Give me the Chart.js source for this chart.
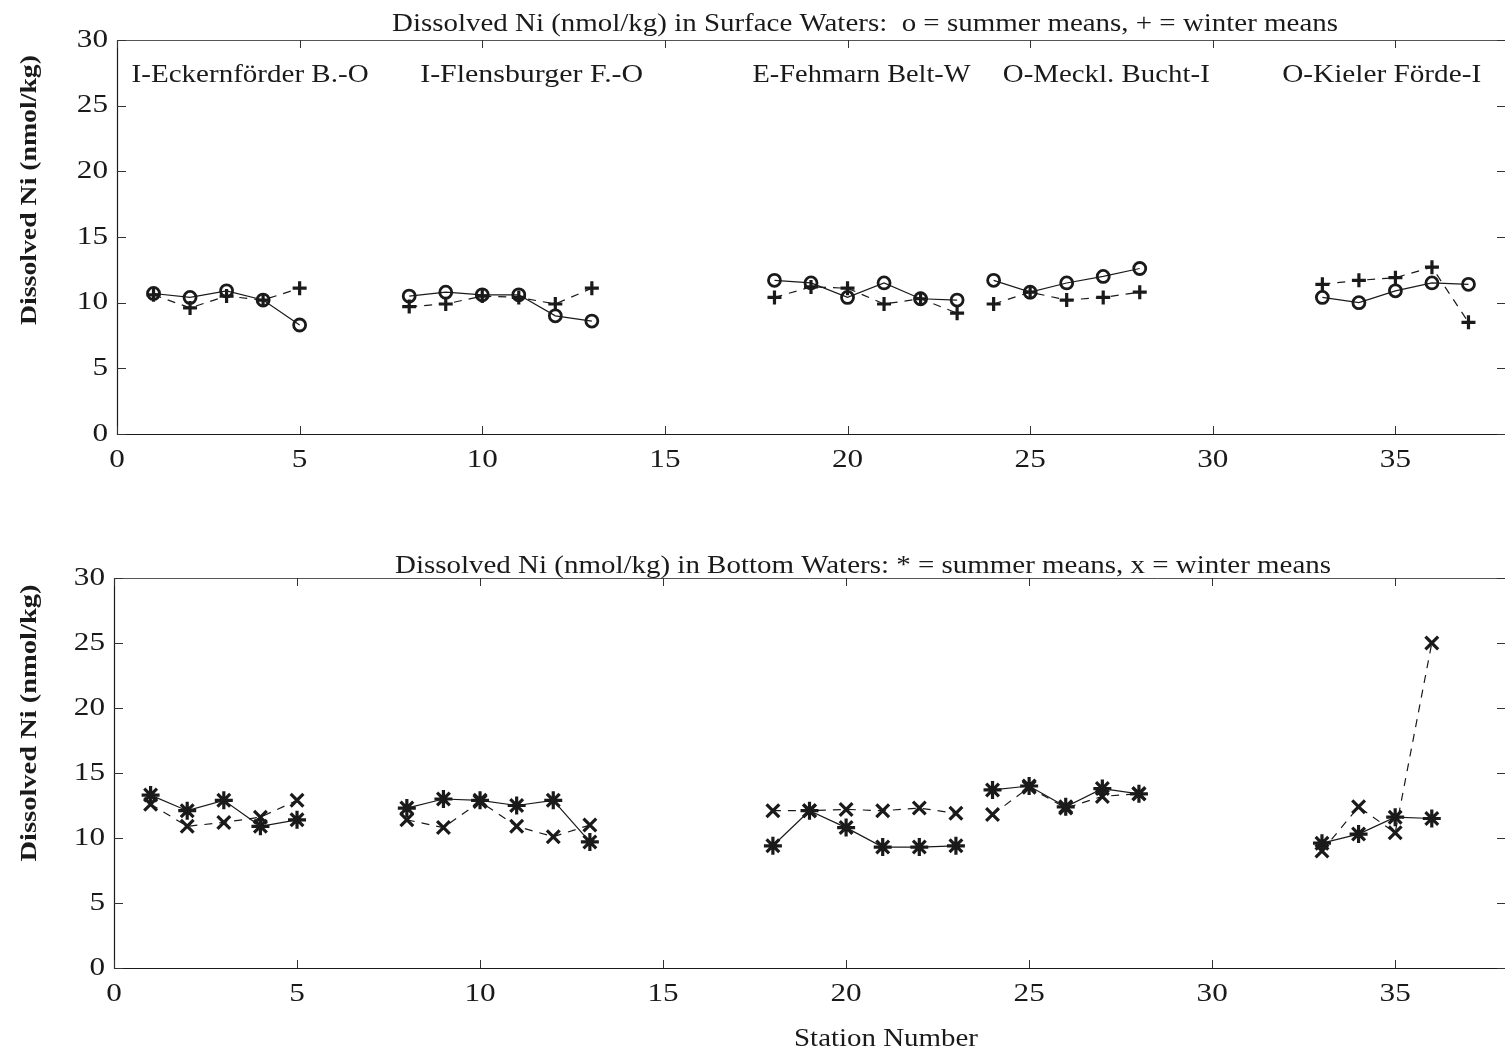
<!DOCTYPE html>
<html>
<head>
<meta charset="utf-8">
<script src="https://cdn.jsdelivr.net/npm/chart.js@4.4.1/dist/chart.umd.min.js"></script>
<style>
  body { margin: 0; background: #fff; overflow: hidden; font-family: "Liberation Serif", serif; }
  .panel { position: absolute; left: 0; width: 1505px; }
  #surfacePanel { top: 0; height: 480px; }
  #bottomPanel { top: 538px; height: 513px; }
  .warm { position: absolute; left: -999px; top: 0; }
</style>
</head>
<body>
<span class="warm">Dissolved Ni <b>Dissolved Ni</b></span>
<div class="panel" id="surfacePanel"><canvas id="surfaceChart"></canvas></div>
<div class="panel" id="bottomPanel"><canvas id="bottomChart"></canvas></div>
<script>
// Stations, grouped by transect
const regionNames = ["I-Eckernförder B.-O", "I-Flensburger F.-O", "E-Fehmarn Belt-W", "O-Meckl. Bucht-I", "O-Kieler Förde-I"];
const regionStations = [
  [1, 2, 3, 4, 5],
  [8, 9, 10, 11, 12, 13],
  [18, 19, 20, 21, 22, 23],
  [24, 25, 26, 27, 28],
  [33, 34, 35, 36, 37]
];
const stations = regionStations.flat();

// Dissolved Ni (nmol/kg), one value per station above
const surfaceSummer = [10.7, 10.4, 10.9, 10.2, 8.3,  10.5, 10.8, 10.6, 10.6, 9.0, 8.6,  11.7, 11.5, 10.4, 11.5, 10.3, 10.2,  11.7, 10.8, 11.5, 12.0, 12.6,  10.4, 10.0, 10.9, 11.5, 11.4];
const surfaceWinter = [10.6, 9.6, 10.5, 10.2, 11.1,  9.7, 9.9, 10.5, 10.4, 9.9, 11.1,  10.4, 11.2, 11.1, 9.9, 10.3, 9.2,  9.9, 10.8, 10.2, 10.4, 10.8,  11.4, 11.7, 11.9, 12.7, 8.5];
const bottomSummer = [13.3, 12.1, 12.9, 10.9, 11.4,  12.3, 13.0, 12.9, 12.5, 12.9, 9.7,  9.4, 12.1, 10.8, 9.3, 9.3, 9.4,  13.7, 14.0, 12.4, 13.8, 13.4,  9.6, 10.3, 11.6, 11.5, null];
const bottomWinter = [12.6, 10.9, 11.2, 11.6, 12.9,  11.4, 10.8, 12.8, 10.9, 10.1, 11.0,  12.1, 12.1, 12.2, 12.1, 12.3, 11.9,  11.8, 13.9, 12.3, 13.2, 13.4,  9.0, 12.4, 10.4, 25.0, null];

const xTicks = [0, 5, 10, 15, 20, 25, 30, 35];
const yTicks = [0, 5, 10, 15, 20, 25, 30];

// left edge (data units) of each transect name, its baseline height and set width in px
const regionLabelX = [0.4, 8.3, 17.4, 24.25, 31.9];
const regionLabelY = 26.8;
const regionLabelW = [237, 223, 218, 207, 199];

const FONT = '"Liberation Serif", "Times New Roman", Tinos, serif';
const SX = 1.2;   // the plotter's type is set wide
const INK = "#1a1a1a";

const regionOf = {};
regionStations.forEach((list, i) => list.forEach(s => { regionOf[s] = i; }));

function points(values) {
  return stations.map((s, i) => ({ x: s, y: values[i] }));
}

// no connecting line between two different transects
function sameRegion(ctx) {
  return regionOf[ctx.p0.parsed.x] === regionOf[ctx.p1.parsed.x] ? undefined : "rgba(0,0,0,0)";
}

function series(values, style, radius, dashed) {
  return {
    data: points(values),
    borderColor: INK,
    borderWidth: 1.2,
    borderDash: dashed ? [8, 7] : [],
    pointStyle: style,
    pointRadius: radius,
    pointBorderWidth: style === "circle" ? 2.8 : 3.2,
    pointBorderColor: INK,
    pointBackgroundColor: "rgba(0,0,0,0)",
    spanGaps: false,
    tension: 0,
    segment: { borderColor: sameRegion }
  };
}

function wideText(ctx, text, x, y, align, sx) {
  ctx.save();
  ctx.translate(x, y);
  ctx.scale(sx, 1);
  ctx.textAlign = align;
  ctx.fillText(text, 0, 0);
  ctx.restore();
}

// stretch a string to a given width
function fitText(ctx, text, x, y, align, width) {
  wideText(ctx, text, x, y, align, width / ctx.measureText(text).width);
}

// box, inward ticks and all lettering
const framePlugin = {
  id: "frame",
  afterDraw(chart, args, opts) {
    const { ctx, chartArea: a } = chart;
    const xs = chart.scales.x, ys = chart.scales.y;
    ctx.save();
    ctx.strokeStyle = INK;
    ctx.lineWidth = 1.2;
    ctx.beginPath();
    ctx.moveTo(a.left + 0.5, a.top + 0.5);
    ctx.lineTo(a.left + 0.5, a.bottom + 0.5);
    ctx.lineTo(a.right, a.bottom + 0.5);
    ctx.stroke();
    ctx.strokeStyle = "#555";
    ctx.lineWidth = 1;
    ctx.beginPath();
    ctx.moveTo(a.left, a.top + 0.5);
    ctx.lineTo(a.right, a.top + 0.5);
    ctx.stroke();

    ctx.strokeStyle = "#333";
    ctx.beginPath();
    xTicks.forEach(v => {
      const px = Math.round(xs.getPixelForValue(v)) + 0.5;
      ctx.moveTo(px, a.bottom); ctx.lineTo(px, a.bottom - 8);
      ctx.moveTo(px, a.top); ctx.lineTo(px, a.top + 8);
    });
    yTicks.forEach(v => {
      const py = Math.round(ys.getPixelForValue(v)) + 0.5;
      ctx.moveTo(a.left, py); ctx.lineTo(a.left + 9, py);
      ctx.moveTo(a.right, py); ctx.lineTo(a.right - 8, py);
    });
    ctx.stroke();

    ctx.fillStyle = INK;
    ctx.font = "26px " + FONT;
    ctx.textBaseline = "middle";
    xTicks.forEach(v => wideText(ctx, String(v), xs.getPixelForValue(v), a.bottom + 26, "center", SX));
    yTicks.forEach(v => wideText(ctx, String(v), a.left - 9, ys.getPixelForValue(v), "right", SX));

    ctx.textBaseline = "alphabetic";
    ctx.font = "25px " + FONT;
    fitText(ctx, opts.title, opts.titleX, a.top - opts.titleGap, "center", opts.titleW);

    if (opts.regions) {
      regionNames.forEach((name, i) => {
        fitText(ctx, name, xs.getPixelForValue(regionLabelX[i]), ys.getPixelForValue(regionLabelY), "left", regionLabelW[i]);
      });
    }
    if (opts.xLabel) {
      fitText(ctx, opts.xLabel, 886, chart.height - 5, "center", 184);
    }

    ctx.font = "bold 24px " + FONT;
    ctx.save();
    ctx.translate(36, opts.yLabelCenter);
    ctx.rotate(-Math.PI / 2);
    fitText(ctx, "Dissolved Ni (nmol/kg)", 0, 0, "center", opts.yLabelW);
    ctx.restore();
    ctx.restore();
  }
};

function makeChart(id, datasets, plotLeft, axisHeight, frame) {
  return new Chart(document.getElementById(id), {
    type: "line",
    data: { datasets },
    plugins: [framePlugin],
    options: {
      responsive: true,
      maintainAspectRatio: false,
      animation: false,
      events: [],
      layout: { autoPadding: false, padding: { top: 40, right: 0, bottom: 0, left: 0 } },
      plugins: {
        legend: { display: false },
        tooltip: { enabled: false },
        frame
      },
      scales: {
        x: {
          type: "linear",
          min: 0,
          max: 38,
          grid: { display: false },
          border: { display: false },
          ticks: { display: false },
          afterBuildTicks: s => { s.ticks = xTicks.map(v => ({ value: v })); },
          afterFit: s => { s.height = axisHeight; }
        },
        y: {
          min: 0,
          max: 30,
          grid: { display: false },
          border: { display: false },
          ticks: { display: false },
          afterBuildTicks: s => { s.ticks = yTicks.map(v => ({ value: v })); },
          afterFit: s => { s.width = plotLeft; }
        }
      }
    }
  });
}

function drawAll() {
  // Surface waters: o summer (solid), + winter (dashed)
  makeChart("surfaceChart", [
    series(surfaceWinter, "cross", 7, true),
    series(surfaceSummer, "circle", 6, false)
  ], 117, 46, {
    title: "Dissolved Ni (nmol/kg) in Surface Waters:  o = summer means, + = winter means",
    titleX: 865,
    titleW: 946,
    titleGap: 9,
    yLabelCenter: 190,
    yLabelW: 270,
    regions: true
  });

  // Bottom waters: * summer (solid), x winter (dashed)
  makeChart("bottomChart", [
    series(bottomWinter, "crossRot", 9, true),
    series(bottomSummer, "star", 9, false)
  ], 114, 83, {
    title: "Dissolved Ni (nmol/kg) in Bottom Waters: * = summer means, x = winter means",
    titleX: 863,
    titleW: 936,
    titleGap: 5,
    yLabelCenter: 185,
    yLabelW: 277,
    xLabel: "Station Number"
  });
}

Promise.all([
  document.fonts.load('25px "Liberation Serif"'),
  document.fonts.load('bold 24px "Liberation Serif"')
]).catch(() => {}).then(drawAll);
</script>
</body>
</html>
